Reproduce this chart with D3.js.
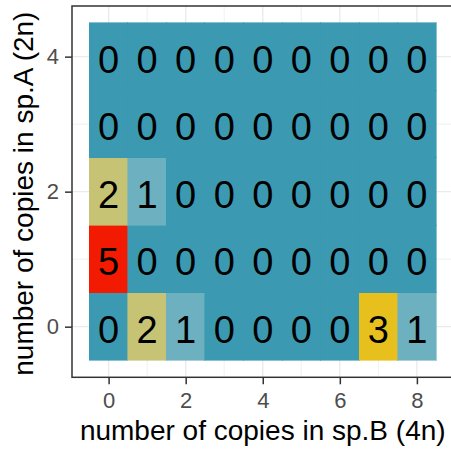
<!DOCTYPE html>
<html>
<head>
<meta charset="utf-8">
<script src="https://cdn.jsdelivr.net/npm/d3@7"></script>
<style>
  body { margin: 0; background: #fff; }
  text { font-family: "Liberation Sans", Arial, sans-serif; }
</style>
</head>
<body>
<div id="chart"></div>
<script>
// copies in sp.B (columns) x copies in sp.A (rows)
const copiesB = [0, 1, 2, 3, 4, 5, 6, 7, 8];
const copiesA = [0, 1, 2, 3, 4];
const counts = [
  [0, 2, 1, 0, 0, 0, 0, 3, 1], // sp.A = 0
  [5, 0, 0, 0, 0, 0, 0, 0, 0], // sp.A = 1
  [2, 1, 0, 0, 0, 0, 0, 0, 0], // sp.A = 2
  [0, 0, 0, 0, 0, 0, 0, 0, 0], // sp.A = 3
  [0, 0, 0, 0, 0, 0, 0, 0, 0]  // sp.A = 4
];
const xTicks = [0, 2, 4, 6, 8];
const yTicks = [0, 2, 4];
const palette = ['#3B9AB2', '#78B7C5', '#EBCC2A', '#E1AF00', '#F21A00'];

const width = 451, height = 449;
const margin = { top: 6, left: 72 };
const graphWidth = 381.5, graphHeight = 371.3;

const svg = d3.select('#chart').append('svg')
  .attr('width', width)
  .attr('height', height);

const graph = svg.append('g').attr('transform', `translate(${margin.left}, ${margin.top})`);

const xScale = d3.scaleLinear().domain([-0.95, 8.95]).range([0, graphWidth]);
const yScale = d3.scaleLinear().domain([-0.75, 4.75]).range([graphHeight, 0]);

const maxCount = d3.max(counts.flat());
const colorScale = d3.scaleLinear()
  .domain(palette.map((c, i) => i * maxCount / (palette.length - 1)))
  .range(palette)
  .interpolate(d3.interpolateLab);

// grid
const minorX = d3.range(-1, 10, 2).filter(v => v > -0.95 && v < 8.95);
const minorY = d3.range(-1, 6, 2).filter(v => v > -0.75 && v < 4.75);
graph.selectAll('line.minor-x').data(minorX).enter().append('line')
  .attr('x1', d => xScale(d)).attr('x2', d => xScale(d))
  .attr('y1', 0).attr('y2', graphHeight)
  .attr('stroke', '#EBEBEB').attr('stroke-width', 0.7);
graph.selectAll('line.minor-y').data(minorY).enter().append('line')
  .attr('y1', d => yScale(d)).attr('y2', d => yScale(d))
  .attr('x1', 0).attr('x2', graphWidth)
  .attr('stroke', '#EBEBEB').attr('stroke-width', 0.7);
graph.selectAll('line.major-x').data(xTicks).enter().append('line')
  .attr('x1', d => xScale(d)).attr('x2', d => xScale(d))
  .attr('y1', 0).attr('y2', graphHeight)
  .attr('stroke', '#EBEBEB').attr('stroke-width', 1.4);
graph.selectAll('line.major-y').data(yTicks).enter().append('line')
  .attr('y1', d => yScale(d)).attr('y2', d => yScale(d))
  .attr('x1', 0).attr('x2', graphWidth)
  .attr('stroke', '#EBEBEB').attr('stroke-width', 1.4);

// tiles
const cells = [];
copiesA.forEach((a, i) => copiesB.forEach((b, j) => cells.push({ a, b, n: counts[i][j] })));

graph.selectAll('rect.tile').data(cells).enter().append('rect')
  .attr('x', d => xScale(d.b - 0.5))
  .attr('y', d => yScale(d.a + 0.5))
  .attr('width', xScale(1) - xScale(0))
  .attr('height', yScale(0) - yScale(1))
  .attr('fill', d => colorScale(d.n))
  .attr('stroke', d => colorScale(d.n))
  .attr('stroke-width', 0.6)
  .attr('shape-rendering', 'crispEdges');

graph.selectAll('text.lab').data(cells).enter().append('text')
  .attr('x', d => xScale(d.b))
  .attr('y', d => yScale(d.a))
  .attr('dy', '0.42em')
  .attr('text-anchor', 'middle')
  .attr('font-size', 38)
  .attr('fill', '#000')
  .text(d => d.n);

// border
graph.append('rect')
  .attr('width', graphWidth).attr('height', graphHeight)
  .attr('fill', 'none').attr('stroke', '#333333').attr('stroke-width', 1.5);

// axes
const xAxis = graph.append('g')
  .attr('transform', `translate(0, ${graphHeight})`)
  .call(d3.axisBottom(xScale).tickValues(xTicks).tickFormat(d3.format('d'))
    .tickSize(7).tickPadding(8).tickSizeOuter(0));
const yAxis = graph.append('g')
  .call(d3.axisLeft(yScale).tickValues(yTicks).tickFormat(d3.format('d'))
    .tickSize(7).tickPadding(6).tickSizeOuter(0));
[xAxis, yAxis].forEach(ax => {
  ax.attr('font-size', 22).attr('font-family', '"Liberation Sans", Arial, sans-serif');
  ax.select('.domain').remove();
  ax.selectAll('.tick line').attr('stroke', '#333333').attr('stroke-width', 1.5);
  ax.selectAll('.tick text').attr('fill', '#4D4D4D');
});

svg.append('text')
  .attr('x', margin.left + graphWidth / 2)
  .attr('y', 440)
  .attr('text-anchor', 'middle')
  .attr('font-size', 28)
  .text('number of copies in sp.B (4n)');

svg.append('text')
  .attr('transform', `translate(33, ${margin.top + graphHeight / 2 + 2}) rotate(-90)`)
  .attr('text-anchor', 'middle')
  .attr('font-size', 28)
  .text('number of copies in sp.A (2n)');
</script>
</body>
</html>
